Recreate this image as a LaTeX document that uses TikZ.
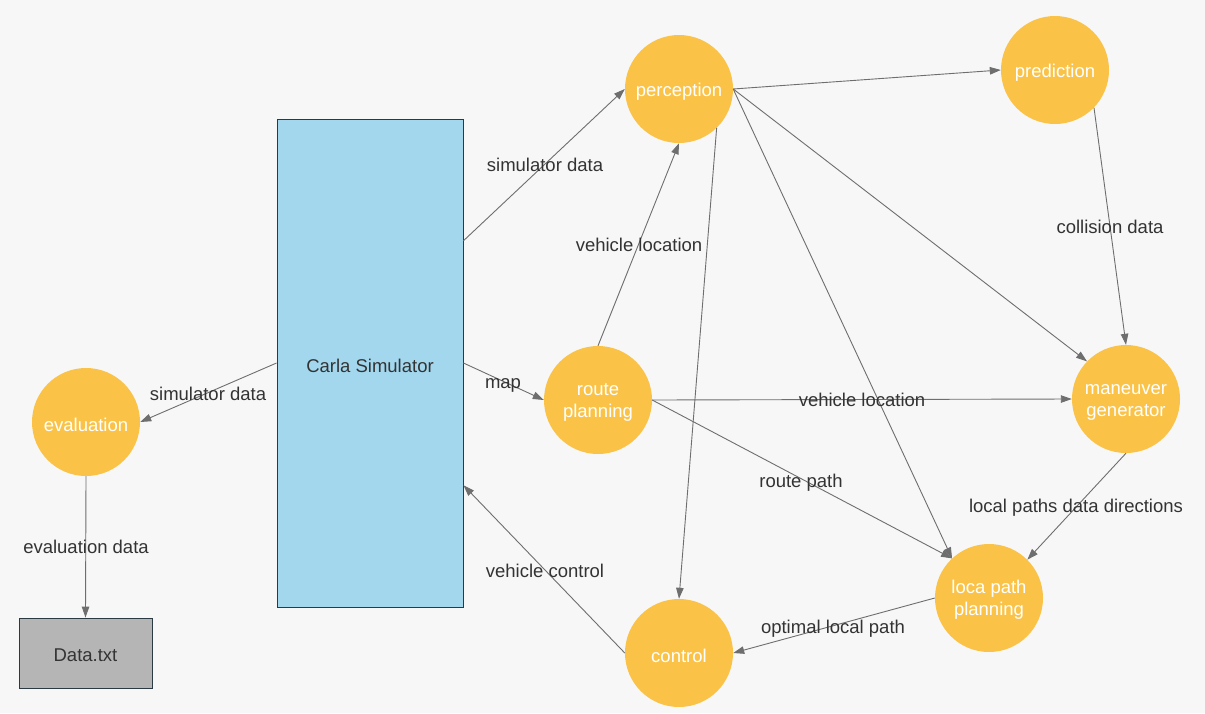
\documentclass[tikz,border=0pt]{standalone}
\usepackage{fontspec}
\setmainfont{Liberation Sans}
\usetikzlibrary{arrows.meta,calc}
\definecolor{bg}{HTML}{F7F7F7}
\definecolor{yel}{HTML}{FAC348}
\definecolor{sky}{HTML}{A2D7EE}
\definecolor{gry}{HTML}{B4B5B4}
\definecolor{frame}{HTML}{2A3942}
\definecolor{txt}{HTML}{333333}
\definecolor{edge}{HTML}{6E6E6E}
\newcommand{\onel}[1]{\raisebox{-2.5pt}[\height][\depth]{#1}}
\newcommand{\twol}[2]{\raisebox{-2.5pt}[\height][\depth]{\begin{tabular}{@{}c@{}}#1\\#2\end{tabular}}}
\tikzset{
  proc/.style={circle, fill=yel, draw=none, minimum size=108pt, inner sep=0pt, text=white, font=\fontsize{18.5}{22}\selectfont},
  lbl/.style={text=txt, inner sep=0pt, text height=13.5pt, text depth=0pt, font=\fontsize{18.5}{22}\selectfont},
  conn/.style={draw=edge, line width=0.9pt, -{Triangle[length=11pt,width=7.5pt]}},
  boxnode/.style={draw=frame, line width=0.9pt, inner sep=0pt, text=txt, font=\fontsize{18.5}{22}\selectfont},
}
\begin{document}
\begin{tikzpicture}[x=1pt,y=-1pt]
\path[fill=bg] (0,0) rectangle (1205,713);
\useasboundingbox (0,0) rectangle (1205,713);
% boxes
\node[boxnode, fill=sky, minimum width=186pt, minimum height=488pt] (carla) at (370,363) {\onel{Carla Simulator}};
\node[boxnode, fill=gry, minimum width=133pt, minimum height=70pt] (data) at (85.5,653) {\onel{Data.txt}};
% circles
\node[proc] (eval) at (86,422) {\onel{evaluation}};
\node[proc] (perc) at (679,89) {\onel{perception}};
\node[proc] (pred) at (1055,70) {\onel{prediction}};
\node[proc] (route) at (598,400) {\twol{route}{planning}};
\node[proc] (man) at (1126,399) {\twol{maneuver}{generator}};
\node[proc] (loca) at (989,598) {\twol{loca path}{planning}};
\node[proc] (ctrl) at (679,653) {\onel{control}};
% anchor points on Carla
\coordinate (cA) at ($(carla.north east)!0.25!(carla.south east)$);
\coordinate (cB) at ($(carla.north east)!0.75!(carla.south east)$);
% connectors
\draw[conn] (cA) -- (perc.west);
\draw[conn] (carla.west) -- (eval.east);
\draw[conn] (eval.south) -- (data.north);
\draw[conn] (carla.east) -- (route.west);
\draw[conn] (route.north) -- (perc.south);
\draw[conn] (perc.-46) -- (ctrl.north);
\draw[conn] (perc.east) -- (pred.west);
\draw[conn] (perc.east) -- (man.136);
\draw[conn] (perc.east) -- (loca.133);
\draw[conn] (pred.-44) -- (man.north);
\draw[conn] (route.east) -- (man.west);
\draw[conn] (route.east) -- (loca.133);
\draw[conn] (man.south) -- (loca.45);
\draw[conn] (loca.west) -- (ctrl.east);
\draw[conn] (ctrl.west) -- (cB);
% labels
\node[lbl] (l1) at (545,165) {simulator data};
\node[lbl] (l2) at (639,245) {vehicle location};
\node[lbl] (l3) at (1110,227) {collision data};
\node[lbl] (l4) at (503,382) {map};
\node[lbl] (l5) at (208,394) {simulator data};
\node[lbl] (l6) at (862,400) {vehicle location};
\node[lbl] (l7) at (801,481) {route path};
\node[lbl] (l8) at (1076,506) {local paths data directions};
\node[lbl] (l9) at (86,547) {evaluation data};
\node[lbl] (l10) at (545,571) {vehicle control};
\node[lbl] (l11) at (833,627) {optimal local path};
\end{tikzpicture}
\end{document}
